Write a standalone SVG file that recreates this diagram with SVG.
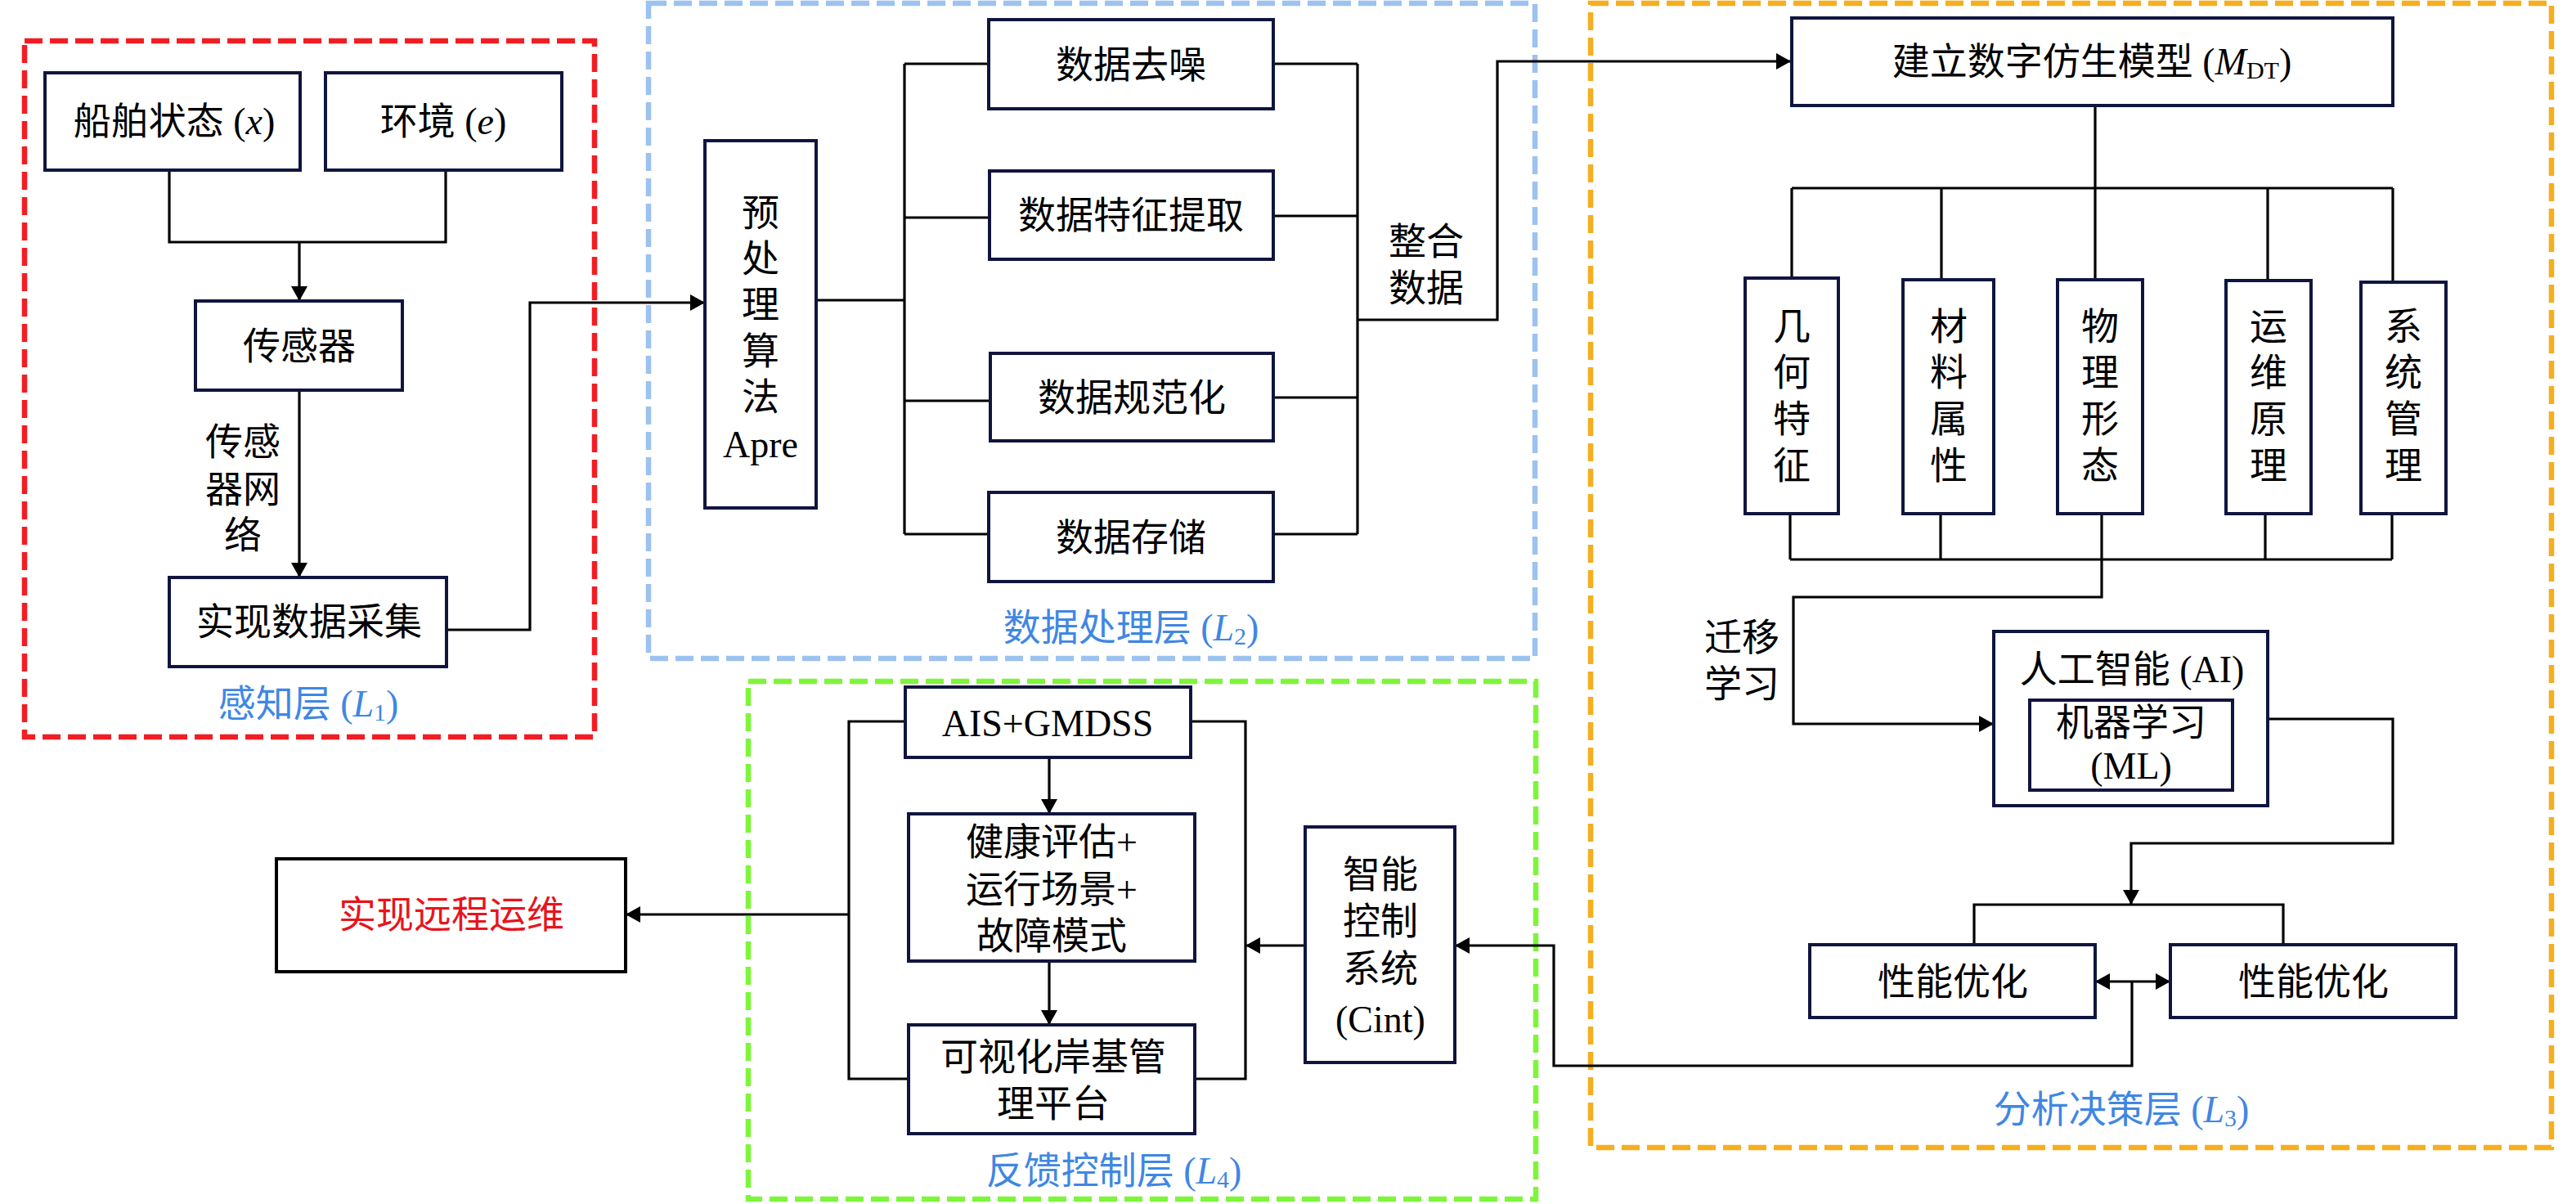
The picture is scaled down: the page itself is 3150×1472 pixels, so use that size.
<svg xmlns="http://www.w3.org/2000/svg" width="3150" height="1472" viewBox="0 0 3150 1472">
<defs>
<style>
.box{fill:#ffffff;stroke:#10153f;stroke-width:4}
.cont{fill:none;stroke-width:6.5;stroke-dasharray:22 9}
.ln{fill:none;stroke:#000000;stroke-width:3.2}
.arr{marker-end:url(#ah)}
text{font-family:"Liberation Serif","Noto Sans CJK SC",serif;font-size:46px;fill:#000000;text-anchor:middle;dominant-baseline:central}
.lay{fill:#3f87e3}
.it{font-style:italic}
.sub{font-size:30px}
</style>
<marker id="ah" viewBox="0 0 18 20" refX="18" refY="10" markerWidth="18" markerHeight="20" markerUnits="userSpaceOnUse" orient="auto-start-reverse">
<path d="M0,0 L18,10 L0,20 Z" fill="#000000"/>
</marker>
</defs>
<rect x="0" y="0" width="3150" height="1472" fill="#ffffff"/>

<g id="layers">
<g id="layer-L1">
<rect class="cont" x="30" y="50" width="697" height="851" stroke="#f21d23"/>
<text class="lay" x="377" y="860">感知层 (<tspan class="it">L</tspan><tspan class="sub" dy="10">1</tspan><tspan dy="-10">)</tspan></text>
</g>
<g id="layer-L2">
<rect class="cont" x="793" y="4" width="1084" height="801" stroke="#9cc2ef"/>
<text class="lay" x="1383" y="767">数据处理层 (<tspan class="it">L</tspan><tspan class="sub" dy="10">2</tspan><tspan dy="-10">)</tspan></text>
</g>
<g id="layer-L3">
<rect class="cont" x="1945" y="4" width="1175" height="1399" stroke="#f5ae1f"/>
<text class="lay" x="2594" y="1356">分析决策层 (<tspan class="it">L</tspan><tspan class="sub" dy="10">3</tspan><tspan dy="-10">)</tspan></text>
</g>
<g id="layer-L4">
<rect class="cont" x="915" y="833" width="963" height="633" stroke="#7df53a"/>
<text class="lay" x="1362" y="1431">反馈控制层 (<tspan class="it">L</tspan><tspan class="sub" dy="10">4</tspan><tspan dy="-10">)</tspan></text>
</g>
</g>

<g id="connectors">
<path class="ln" d="M207,208 V296 H545 V208"/>
<path class="ln arr" d="M366,296 V368"/>
<path class="ln arr" d="M366,477 V706"/>
<path class="ln arr" d="M546,770 H648 V370 H862"/>
<path class="ln" d="M998,367 H1106"/>
<path class="ln" d="M1106,78 V653"/>
<path class="ln" d="M1106,78 H1209 M1106,266 H1210 M1106,490 H1211 M1106,653 H1209"/>
<path class="ln" d="M1557,78 H1660 M1557,264 H1660 M1557,486 H1660 M1557,653 H1660"/>
<path class="ln" d="M1660,78 V653"/>
<path class="ln arr" d="M1660,391 H1831 V75 H2190"/>
<path class="ln" d="M2562,129 V230"/>
<path class="ln" d="M2191,230 H2926"/>
<path class="ln" d="M2191,230 V340 M2374,230 V342 M2562,230 V342 M2773,230 V343 M2926,230 V345"/>
<path class="ln" d="M2189,628 V684 M2373,628 V684 M2770,628 V684 M2925,628 V684"/>
<path class="ln" d="M2189,684 H2925"/>
<path class="ln arr" d="M2570,628 V730 H2193 V885 H2438"/>
<path class="ln arr" d="M2773,879 H2926 V1031 H2606 V1106"/>
<path class="ln" d="M2414,1155 V1106 H2792 V1155"/>
<path class="ln arr" d="M2562,1200 H2654" style="marker-start:url(#ah)"/>
<path class="ln arr" d="M2607,1200 V1303 H1900 V1156 H1779"/>
<path class="ln arr" d="M1596,1156 H1523"/>
<path class="ln arr" d="M1283,926 V995"/>
<path class="ln arr" d="M1283,1175 V1253"/>
<path class="ln" d="M1107,882 H1038 V1319 H1111"/>
<path class="ln" d="M1456,882 H1523 V1319 H1461"/>
<path class="ln arr" d="M1038,1118 H765"/>
</g>

<g id="labels">
<text x="297" y="540">传感</text>
<text x="297" y="598">器网</text>
<text x="297" y="654">络</text>
<text x="1744" y="295">整合</text>
<text x="1744" y="352">数据</text>
<text x="2130" y="779">迁移</text>
<text x="2130" y="836">学习</text>
</g>

<g id="n-ship"><rect class="box" x="55" y="89" width="312" height="119"/><text x="213" y="148">船舶状态 (<tspan class="it">x</tspan>)</text></g>
<g id="n-env"><rect class="box" x="398" y="89" width="289" height="119"/><text x="542" y="148">环境 (<tspan class="it">e</tspan>)</text></g>
<g id="n-sensor"><rect class="box" x="239" y="368" width="253" height="109"/><text x="366" y="423">传感器</text></g>
<g id="n-collect"><rect class="box" x="207" y="706" width="339" height="109"/><text x="378" y="760">实现数据采集</text></g>

<g id="n-apre"><rect class="box" x="862" y="172" width="136" height="449"/>
<text x="930" y="260">预</text><text x="930" y="316">处</text><text x="930" y="372">理</text><text x="930" y="429">算</text><text x="930" y="485">法</text><text x="930" y="543">Apre</text></g>
<g id="n-denoise"><rect class="box" x="1209" y="24" width="348" height="109"/><text x="1383" y="79">数据去噪</text></g>
<g id="n-feature"><rect class="box" x="1210" y="209" width="347" height="108"/><text x="1383" y="263">数据特征提取</text></g>
<g id="n-normalize"><rect class="box" x="1211" y="432" width="346" height="107"/><text x="1384" y="486">数据规范化</text></g>
<g id="n-storage"><rect class="box" x="1209" y="602" width="348" height="109"/><text x="1383" y="657">数据存储</text></g>

<g id="n-model"><rect class="box" x="2191" y="22" width="735" height="107"/><text x="2558" y="75">建立数字仿生模型 (<tspan class="it">M</tspan><tspan class="sub" dy="10">DT</tspan><tspan dy="-10">)</tspan></text></g>
<g id="n-geo"><rect class="box" x="2134" y="340" width="114" height="288"/>
<text x="2191" y="399">几</text><text x="2191" y="455">何</text><text x="2191" y="512">特</text><text x="2191" y="569">征</text></g>
<g id="n-mat"><rect class="box" x="2327" y="342" width="111" height="286"/>
<text x="2383" y="399">材</text><text x="2383" y="455">料</text><text x="2383" y="512">属</text><text x="2383" y="569">性</text></g>
<g id="n-phys"><rect class="box" x="2516" y="342" width="104" height="286"/>
<text x="2568" y="399">物</text><text x="2568" y="455">理</text><text x="2568" y="512">形</text><text x="2568" y="569">态</text></g>
<g id="n-ops"><rect class="box" x="2722" y="343" width="104" height="285"/>
<text x="2774" y="399">运</text><text x="2774" y="455">维</text><text x="2774" y="512">原</text><text x="2774" y="569">理</text></g>
<g id="n-sys"><rect class="box" x="2887" y="345" width="104" height="283"/>
<text x="2939" y="399">系</text><text x="2939" y="455">统</text><text x="2939" y="512">管</text><text x="2939" y="569">理</text></g>
<g id="n-ai"><rect class="box" x="2438" y="772" width="335" height="213"/><text x="2607" y="818">人工智能 (AI)</text></g>
<g id="n-ml"><rect class="box" x="2482" y="856" width="248" height="110"/><text x="2606" y="883">机器学习</text><text x="2606" y="936">(ML)</text></g>
<g id="n-perf1"><rect class="box" x="2213" y="1155" width="349" height="89"/><text x="2388" y="1200">性能优化</text></g>
<g id="n-perf2"><rect class="box" x="2654" y="1155" width="349" height="89"/><text x="2829" y="1200">性能优化</text></g>

<g id="n-ais"><rect class="box" x="1107" y="840" width="349" height="86"/><text x="1281" y="884">AIS+GMDSS</text></g>
<g id="n-health"><rect class="box" x="1111" y="995" width="350" height="180"/>
<text x="1286" y="1029">健康评估+</text><text x="1286" y="1087">运行场景+</text><text x="1286" y="1144">故障模式</text></g>
<g id="n-visual"><rect class="box" x="1111" y="1253" width="350" height="133"/>
<text x="1288" y="1292">可视化岸基管</text><text x="1288" y="1349">理平台</text></g>
<g id="n-cint"><rect class="box" x="1596" y="1011" width="183" height="288"/>
<text x="1688" y="1069">智能</text><text x="1688" y="1126">控制</text><text x="1688" y="1184">系统</text><text x="1688" y="1246">(Cint)</text></g>
<g id="n-remote"><rect x="338" y="1050" width="427" height="138" fill="#ffffff" stroke="#000000" stroke-width="4"/><text x="552" y="1118" fill="#e8141c" style="fill:#e8141c">实现远程运维</text></g>
</svg>
